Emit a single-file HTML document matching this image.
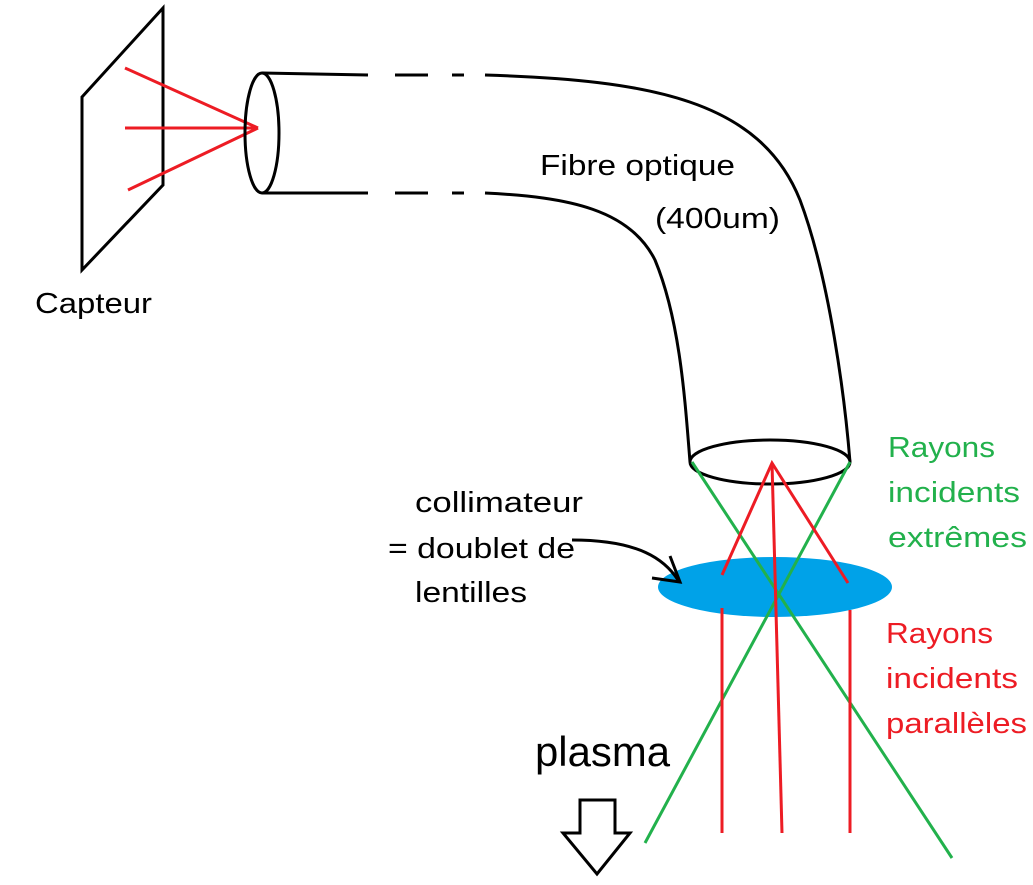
<!DOCTYPE html>
<html><head><meta charset="utf-8"><style>
html,body{margin:0;padding:0;background:#fff;}
svg{display:block;}
text{font-family:"Liberation Sans","DejaVu Sans",sans-serif;}
</style></head><body>
<svg width="1033" height="885" viewBox="0 0 1033 885">
<g fill="none" stroke="#000" stroke-width="3">
<polygon points="82,97 163,8 163,185 82,270"/>
</g>
<g stroke="#ed1c24" stroke-width="3">
<line x1="125" y1="68" x2="258" y2="128"/>
<line x1="125" y1="128" x2="258" y2="128"/>
<line x1="128" y1="190" x2="258" y2="128"/>
</g>
<text x="35" y="313" font-size="29" textLength="117" lengthAdjust="spacingAndGlyphs">Capteur</text>
<g fill="none" stroke="#000" stroke-width="3">
<ellipse cx="262" cy="133" rx="17" ry="60"/>
<line x1="262" y1="73" x2="368" y2="75"/>
<line x1="395" y1="75" x2="428" y2="75"/>
<line x1="452" y1="75" x2="464" y2="75"/>
<line x1="262" y1="193" x2="368" y2="193"/>
<line x1="395" y1="193" x2="428" y2="193"/>
<line x1="452" y1="193" x2="464" y2="193"/>
<path d="M485,75 C650,80 760,100 800,200 C830,280 845,400 850,462"/>
<path d="M485,193 C570,197 630,210 655,260 C680,320 685,400 690,462"/>
<ellipse cx="770" cy="462" rx="80" ry="22"/>
</g>
<text x="540" y="175" font-size="29" textLength="195" lengthAdjust="spacingAndGlyphs">Fibre optique</text>
<text x="655" y="228" font-size="29" textLength="125" lengthAdjust="spacingAndGlyphs">(400um)</text>
<ellipse cx="775" cy="587" rx="117" ry="30" fill="#00a2e8"/>
<g stroke="#22b14c" stroke-width="3">
<line x1="692" y1="462" x2="952" y2="858"/>
<line x1="850" y1="462" x2="645" y2="843"/>
</g>
<g stroke="#ed1c24" stroke-width="3" fill="none">
<polyline points="722,575 772,463 848,583"/>
<line x1="772" y1="463" x2="782" y2="833"/>
<line x1="722" y1="608" x2="722" y2="833"/>
<line x1="850" y1="610" x2="850" y2="833"/>
</g>
<text font-size="29">
<tspan x="415" y="512" textLength="168" lengthAdjust="spacingAndGlyphs">collimateur</tspan>
<tspan x="388" y="558" textLength="187" lengthAdjust="spacingAndGlyphs">= doublet de</tspan>
<tspan x="415" y="602" textLength="112" lengthAdjust="spacingAndGlyphs">lentilles</tspan>
</text>
<g fill="none" stroke="#000" stroke-width="3">
<path d="M572,540 C640,540 665,560 678,580"/>
<polyline points="652,578 680,582 670,556"/>
</g>
<text font-size="29" fill="#22b14c">
<tspan x="888" y="457" textLength="107" lengthAdjust="spacingAndGlyphs">Rayons</tspan><tspan x="888" y="502" textLength="132" lengthAdjust="spacingAndGlyphs">incidents</tspan><tspan x="888" y="547" textLength="139" lengthAdjust="spacingAndGlyphs">extrêmes</tspan>
</text>
<text font-size="29" fill="#ed1c24">
<tspan x="886" y="643" textLength="107" lengthAdjust="spacingAndGlyphs">Rayons</tspan><tspan x="886" y="688" textLength="132" lengthAdjust="spacingAndGlyphs">incidents</tspan><tspan x="886" y="733" textLength="141" lengthAdjust="spacingAndGlyphs">parallèles</tspan>
</text>
<text x="535" y="766" font-size="42" textLength="135" lengthAdjust="spacingAndGlyphs">plasma</text>
<polygon points="580,800 615,800 615,833 630,833 597,874 563,833 580,833" fill="none" stroke="#000" stroke-width="3"/>
</svg>
</body></html>
